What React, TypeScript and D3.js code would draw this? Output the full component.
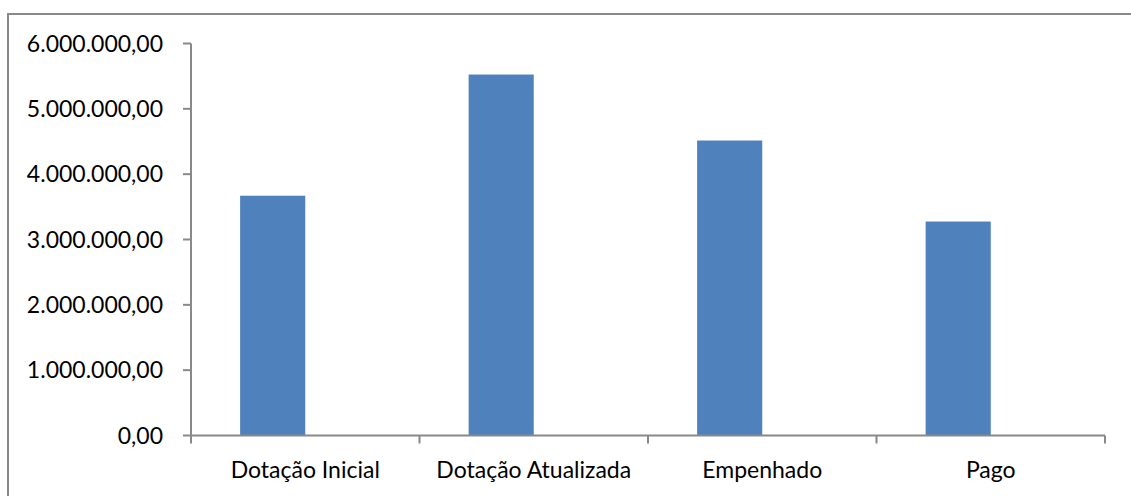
import React from "react";
import * as d3 from "d3";

const categories = ["Dotação Inicial", "Dotação Atualizada", "Empenhado", "Pago"];
const values = [3670000, 5525000, 4515000, 3275000];
const yTicks = [0, 1000000, 2000000, 3000000, 4000000, 5000000, 6000000];

const W = 1131;
const H = 496;
const left = 191;
const right = 1105;
const top = 43.5;
const bottom = 435.5;

const fmt = (v: number) => {
  const s = Math.round(v).toString().replace(/\B(?=(\d{3})+(?!\d))/g, ".");
  return s + ",00";
};

export default function App() {
  const x = d3.scaleBand<string>().domain(categories).range([left, right]).paddingInner(0).paddingOuter(0);
  const y = d3.scaleLinear().domain([0, 6000000]).range([bottom, top]);
  const bw = x.bandwidth();
  const barW = bw * 0.285;
  const font = "Lato, 'Open Sans', sans-serif";
  const axisColor = "#898989";
  return (
    <svg width={W} height={H} style={{ position: "absolute", left: 0, top: 0, background: "#fff" }}>
      <rect x={8} y={14} width={1140} height={500} fill="#fff" stroke={axisColor} strokeWidth={2} />
      {categories.map((c, i) => {
        const cx = (x(c) as number) + bw / 2;
        return (
          <rect key={c} x={cx - barW} y={y(values[i])} width={barW} height={y(0) - y(values[i])} fill="#4f81bd" />
        );
      })}
      <line x1={left} x2={left} y1={top} y2={bottom} stroke={axisColor} strokeWidth={2} />
      {yTicks.map((t) => (
        <g key={t}>
          <line x1={left - 8} x2={left} y1={y(t)} y2={y(t)} stroke={axisColor} strokeWidth={2} />
          <text x={163} y={y(t)} dy="0.36em" textAnchor="end" fontFamily={font} fontSize={23} fill="#000">
            {fmt(t)}
          </text>
        </g>
      ))}
      <line x1={left} x2={right} y1={bottom} y2={bottom} stroke={axisColor} strokeWidth={2} />
      {[...categories.map((c) => x(c) as number), right].map((px, i) => (
        <line key={i} x1={px} x2={px} y1={bottom} y2={bottom + 8} stroke={axisColor} strokeWidth={2} />
      ))}
      {categories.map((c) => (
        <text key={c} x={(x(c) as number) + bw / 2} y={478} textAnchor="middle" fontFamily={font} fontSize={23} fill="#000">
          {c}
        </text>
      ))}
    </svg>
  );
}
